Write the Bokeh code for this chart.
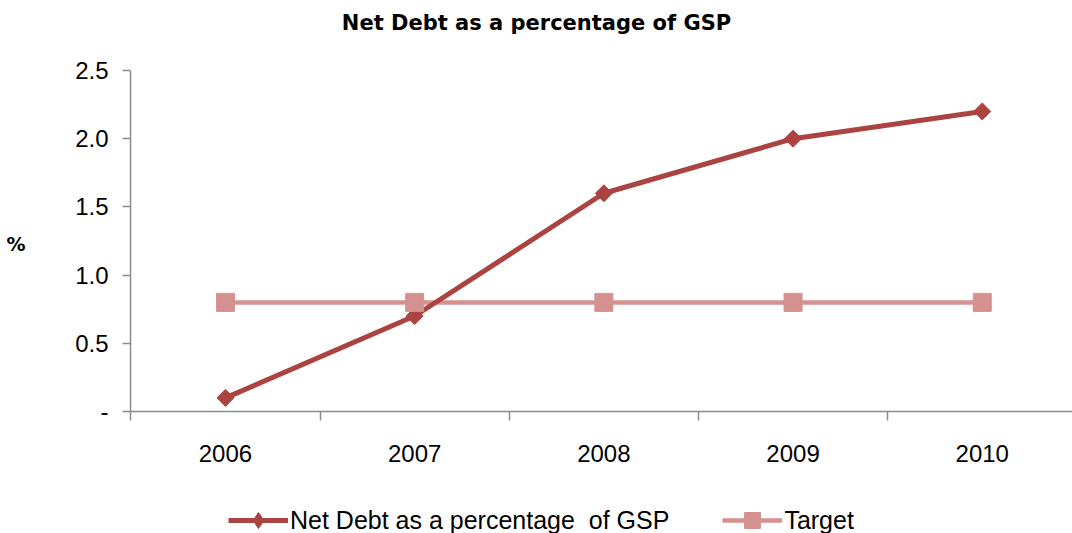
import math
from bokeh.plotting import figure
from bokeh.layouts import column
from bokeh.models import (ColumnDataSource, Range1d, FixedTicker, Legend, LegendItem, Label,
                          LinearAxis)
from bokeh.embed import file_html
from bokeh.resources import INLINE

# ---- data ----
years = ["2006", "2007", "2008", "2009", "2010"]
net_debt = [0.1, 0.7, 1.6, 2.0, 2.2]
target = [0.8, 0.8, 0.8, 0.8, 0.8]
y_ticks = [0, 0.5, 1.0, 1.5, 2.0, 2.5]
y_tick_labels = ["-", "0.5", "1.0", "1.5", "2.0", "2.5"]
series_names = ["Net Debt as a percentage  of GSP", "Target"]
title_text = "Net Debt as a percentage of GSP"
y_title = "%"

RED = "#AB4441"
PINK = "#D59190"
AXIS = "#8C8C8C"
W = 1072
LEFT = 130
H_TITLE, H_MAIN, H_LEG = 45, 441, 47


def bare(height):
    # frames of a column are aligned with the main chart's frame (x from LEFT to W)
    f = figure(width=W, height=height, output_backend="svg", toolbar_location=None,
               x_axis_type=None, y_axis_type=None,
               x_range=Range1d(LEFT, W), y_range=Range1d(0, height))
    f.min_border_left = f.min_border_right = f.min_border_top = f.min_border_bottom = 0
    f.outline_line_color = None
    f.xgrid.visible = False
    f.ygrid.visible = False
    return f


# ---- title strip ----
pt = bare(H_TITLE)
pt.add_layout(Label(x=536, y=23, text=title_text, text_align="center",
                    text_baseline="alphabetic", text_font="DejaVu Sans",
                    text_font_size="21px", text_font_style="bold", text_color="black"))

# ---- main chart ----
xs = list(range(len(years)))
src = ColumnDataSource(dict(x=xs, net=net_debt, tgt=target))

p = figure(width=W, height=H_MAIN, output_backend="svg", toolbar_location=None,
           x_range=Range1d(-0.502, 4.477), y_range=Range1d(0, 2.5))
p.min_border_left = LEFT
p.min_border_right = 0
p.min_border_top = 25
p.min_border_bottom = 75
p.outline_line_color = None
p.background_fill_color = "white"
p.border_fill_color = "white"
p.xgrid.visible = False
p.ygrid.visible = False

l_tgt = p.line("x", "tgt", source=src, line_color=PINK, line_width=4.5)
l_net = p.line("x", "net", source=src, line_color=RED, line_width=5)
m_net = p.scatter("x", "net", source=src, marker="square", angle=math.pi / 4, size=12,
                  fill_color=RED, line_color=RED)
m_tgt = p.scatter("x", "tgt", source=src, marker="square", size=18,
                  fill_color=PINK, line_color=PINK)

xa = p.xaxis[0]
xa.ticker = FixedTicker(ticks=xs, minor_ticks=[i - 0.5 for i in range(len(years) + 1)])
xa.major_label_overrides = {i: y for i, y in enumerate(years)}
xa.major_tick_out = 0
xa.major_tick_in = 0
xa.minor_tick_out = 9
xa.minor_tick_in = 0
xa.minor_tick_line_color = AXIS
xa.minor_tick_line_width = 1.5
xa.axis_line_color = AXIS
xa.axis_line_width = 1.5
xa.major_label_standoff = 24
xa.major_label_text_font = "Liberation Sans"
xa.major_label_text_font_size = "24px"
xa.major_label_text_color = "black"

ya = p.yaxis[0]
ya.ticker = FixedTicker(ticks=y_ticks, minor_ticks=[])
ya.major_label_overrides = {t: lab for t, lab in zip(y_ticks, y_tick_labels)}
ya.major_tick_out = 8
ya.major_tick_in = 0
ya.major_tick_line_color = AXIS
ya.major_tick_line_width = 1.5
ya.axis_line_color = AXIS
ya.axis_line_width = 1.5
ya.major_label_standoff = 14
ya.major_label_text_font = "Liberation Sans"
ya.major_label_text_font_size = "24px"
ya.major_label_text_color = "black"

# outer left axis carrying the horizontal "%" title
PCT_POS = 1.23
ya2 = LinearAxis(ticker=FixedTicker(ticks=[PCT_POS], minor_ticks=[]),
                 major_label_overrides={PCT_POS: y_title})
ya2.axis_line_color = None
ya2.major_tick_line_color = None
ya2.minor_tick_line_color = None
ya2.major_label_standoff = 41
ya2.major_label_text_font = "DejaVu Sans"
ya2.major_label_text_font_size = "19px"
ya2.major_label_text_font_style = "bold"
ya2.major_label_text_color = "black"
p.add_layout(ya2, "left")

# ---- legend strip (its glyphs use the same data, outside this strip's visible range) ----
pl = bare(H_LEG)
g_net_l = pl.line("x", "net", source=src, line_color=RED, line_width=5)
g_net_m = pl.scatter("x", "net", source=src, marker="diamond", fill_color=RED, line_color=RED)
g_tgt_l = pl.line("x", "tgt", source=src, line_color=PINK, line_width=4.5)
g_tgt_m = pl.scatter("x", "tgt", source=src, marker="square", fill_color=PINK, line_color=PINK)

legend = Legend(items=[
    LegendItem(label=series_names[0], renderers=[g_net_l, g_net_m]),
    LegendItem(label=series_names[1], renderers=[g_tgt_l, g_tgt_m]),
], orientation="horizontal", location=(228 - LEFT, -7))
legend.glyph_width = 60
legend.glyph_height = 40
legend.label_standoff = 2
legend.spacing = 53
legend.padding = 0
legend.margin = 0
legend.border_line_color = None
legend.background_fill_alpha = 0
legend.label_text_font = "Liberation Sans"
legend.label_text_font_size = "25px"
legend.label_text_color = "black"
pl.add_layout(legend, "center")

layout = column(pt, p, pl)
open("out.html", "w").write(file_html(layout, INLINE))
